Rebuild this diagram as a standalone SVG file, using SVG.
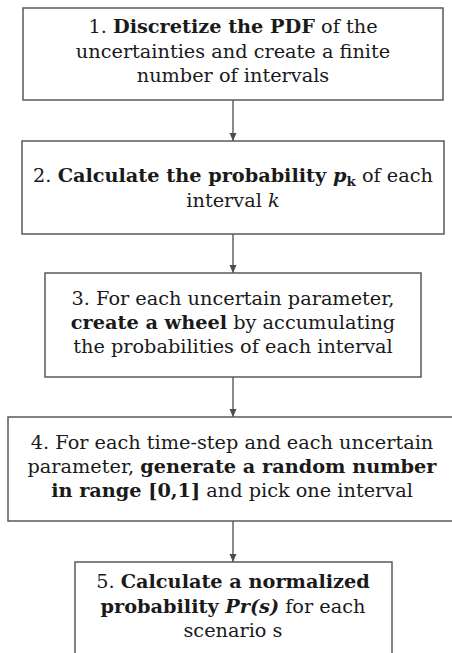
<svg xmlns="http://www.w3.org/2000/svg" width="452" height="653" viewBox="0 0 452 653">
<style>
.box{fill:#fff;stroke:#595959;stroke-width:1.5}
.t{font-family:"DejaVu Serif","Liberation Serif",serif;font-size:19.3px;fill:#1a1a1a;text-anchor:middle}
.b{font-weight:bold}
.i{font-style:italic}
.conn{stroke:#4d4d4d;stroke-width:1.3;fill:none}
</style>
<defs>
<marker id="ah" viewBox="0 0 8 8" refX="8" refY="4" markerWidth="8" markerHeight="8" markerUnits="userSpaceOnUse" orient="auto">
<path d="M0,0.5 L8,4 L0,7.5 Z" fill="#4d4d4d"/>
</marker>
</defs>
<rect width="452" height="653" fill="#fff"/>
<g id="connectors">
<line class="conn" x1="233" y1="100" x2="233" y2="141" marker-end="url(#ah)"/>
<line class="conn" x1="233" y1="234" x2="233" y2="273" marker-end="url(#ah)"/>
<line class="conn" x1="233" y1="377" x2="233" y2="417" marker-end="url(#ah)"/>
<line class="conn" x1="233" y1="521" x2="233" y2="562" marker-end="url(#ah)"/>
</g>
<g id="n1">
<rect class="box" x="23" y="8" width="420" height="92"/>
<text class="t" x="233" y="33">1. <tspan class="b">Discretize the PDF</tspan> of the</text>
<text class="t" x="233" y="58">uncertainties and create a finite</text>
<text class="t" x="233" y="82">number of intervals</text>
</g>
<g id="n2">
<rect class="box" x="22" y="141" width="422" height="93"/>
<text class="t" x="233" y="182">2. <tspan class="b">Calculate the probability </tspan><tspan class="b i">p</tspan><tspan class="b" font-size="13.5" dy="4">k</tspan><tspan dy="-4"> of each</tspan></text>
<text class="t" x="233" y="207">interval <tspan class="i">k</tspan></text>
</g>
<g id="n3">
<rect class="box" x="45" y="273" width="376" height="104"/>
<text class="t" x="233" y="305">3. For each uncertain parameter,</text>
<text class="t" x="233" y="329"><tspan class="b">create a wheel</tspan> by accumulating</text>
<text class="t" x="233" y="353">the probabilities of each interval</text>
</g>
<g id="n4">
<rect class="box" x="8" y="417" width="445" height="104"/>
<text class="t" x="232" y="449">4. For each time-step and each uncertain</text>
<text class="t" x="232" y="473">parameter, <tspan class="b">generate a random number</tspan></text>
<text class="t" x="232" y="497"><tspan class="b">in range [0,1]</tspan> and pick one interval</text>
</g>
<g id="n5">
<rect class="box" x="75" y="562" width="317" height="100"/>
<text class="t" x="233" y="588">5. <tspan class="b">Calculate a normalized</tspan></text>
<text class="t" x="233" y="613"><tspan class="b">probability </tspan><tspan class="b i">Pr(s)</tspan> for each</text>
<text class="t" x="233" y="637">scenario s</text>
</g>
</svg>
